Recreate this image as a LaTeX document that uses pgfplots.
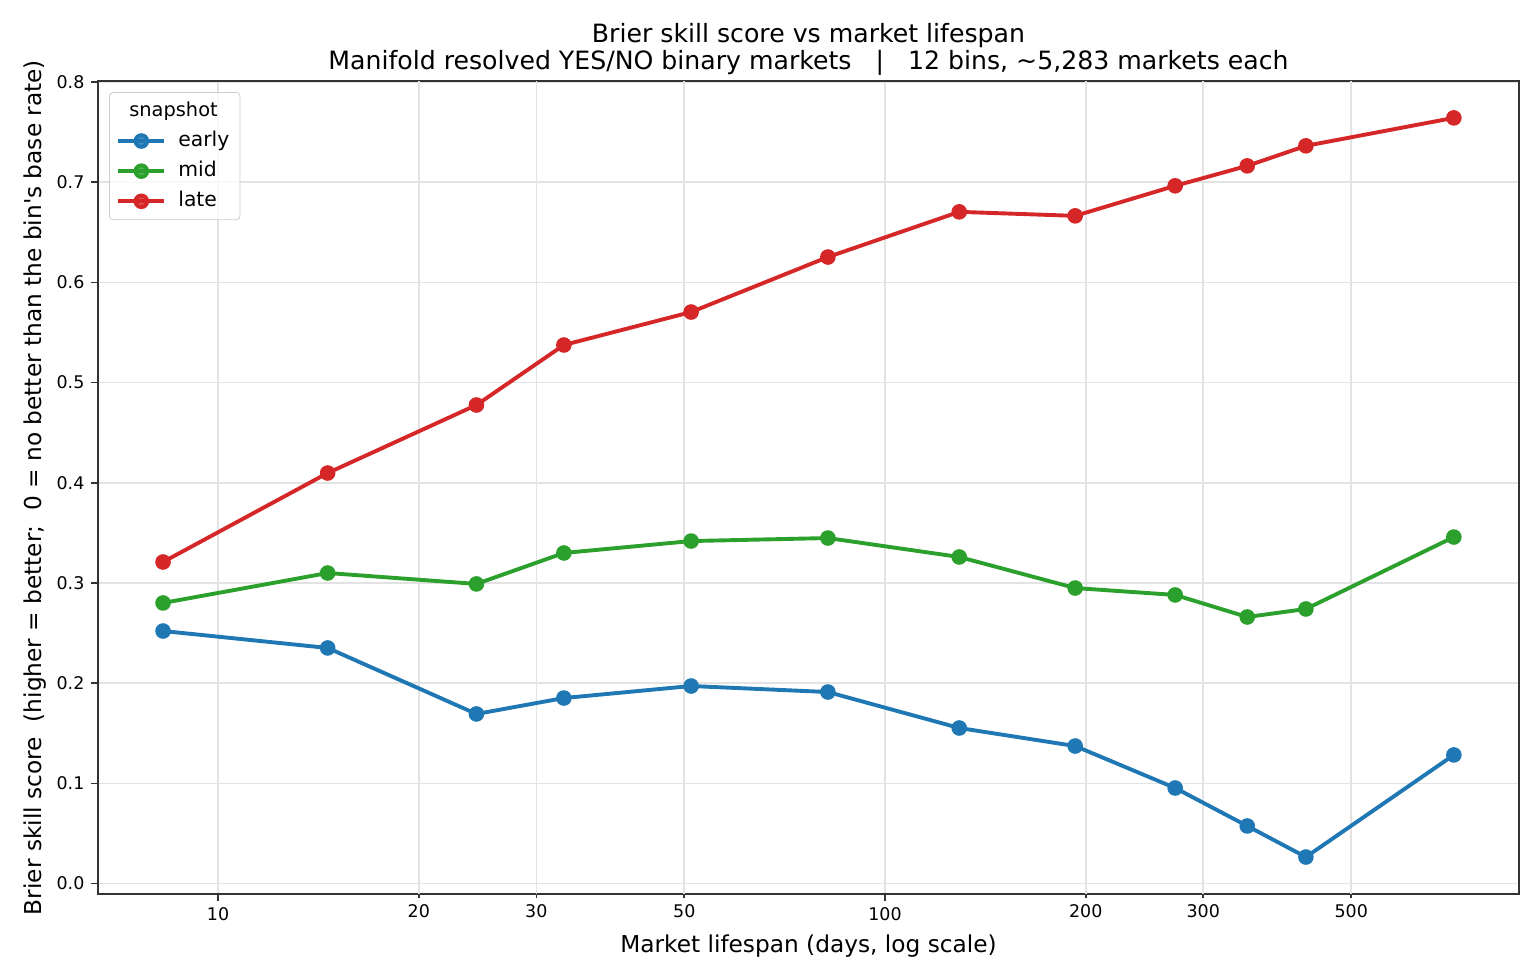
\documentclass[border=0pt]{standalone}
\usepackage{fontspec}
\setmainfont{DejaVu Sans}
\usepackage{pgfplots}
\pgfplotsset{compat=1.18}
\usetikzlibrary{calc}
\definecolor{tabblue}{HTML}{1F77B4}
\definecolor{tabgreen}{HTML}{2CA02C}
\definecolor{tabred}{HTML}{D62728}
\definecolor{spine}{HTML}{333333}
\begin{document}
\begin{tikzpicture}
\begin{axis}[
  name=ax, at={(0,0)}, anchor=south west,
  scale only axis, width=730.8bp, height=418.1bp,
  xmode=log, log basis x=10,
  xmin=6.607, xmax=892.4,
  ymin=-0.0105, ymax=0.801,
  xtick={10,100}, xticklabels={10,100},
  extra x ticks={20,30,50,200,300,500},
  extra x tick labels={20,30,50,200,300,500},
  extra x tick style={major tick length=2bp, grid=major},
  minor xtick={},
  ytick={0,0.1,0.2,0.3,0.4,0.5,0.6,0.7,0.8},
  yticklabel style={/pgf/number format/.cd, fixed, fixed zerofill, precision=1},
  /pgf/number format/assume math mode=true,
  tick align=outside, tick pos=left, major tick length=3.5bp,
  tick style={spine, line width=0.8bp},
  grid=major, major grid style={black!11, line width=0.8bp},
  axis line style={spine, line width=0.8bp},
  ticklabel style={font=\fontsize{9}{10.8}\selectfont, text=black},
  xlabel={Market lifespan (days, log scale)},
  xlabel style={at={(axis description cs:0.5,0)}, anchor=base, yshift=-30bp, font=\fontsize{12}{14.4}\selectfont},
  legend style={at={(axis description cs:0,1)}, anchor=north west, xshift=5.66bp, yshift=-5.66bp,
    draw=black!20, rounded corners=2bp, fill=white, fill opacity=0.8, text opacity=1,
    inner xsep=3.6bp, inner ysep=3.4bp, row sep=3.3bp, column sep=6.2bp,
    font=\fontsize{10.5}{12.6}\selectfont,
    nodes={inner sep=0pt, text height=8.9bp, text depth=3.3bp}},
  legend cell align=left,
  legend image code/.code={\draw[mark repeat=2,mark phase=2,#1] plot coordinates {(0bp,0bp)(11.83bp,0bp)(23.66bp,0bp)};},
  every axis plot/.append style={line width=2bp, mark=*, mark size=3bp, mark options={solid, line width=1bp}},
]
\addlegendimage{empty legend}
\addlegendentry{\hspace*{-25.2bp}\fontsize{10}{12}\selectfont snapshot\hspace*{7.9bp}}

\addplot[color=tabblue, mark options={fill=tabblue}] coordinates {
  (8.27,0.2520) (14.6,0.2351) (24.4,0.1692) (33.0,0.1851) (51.2,0.1971) (82.1,0.1911)
  (129.2,0.1552) (192.8,0.1372) (272.3,0.0953) (349.2,0.0574) (427.6,0.0264) (712.7,0.1283)};
\addlegendentry{early}

\addplot[color=tabgreen, mark options={fill=tabgreen}] coordinates {
  (8.27,0.2800) (14.6,0.3099) (24.4,0.2990) (33.0,0.3299) (51.2,0.3418) (82.1,0.3448)
  (129.2,0.3259) (192.8,0.2949) (272.3,0.2880) (349.2,0.2660) (427.6,0.2740) (712.7,0.3458)};
\addlegendentry{mid}

\addplot[color=tabred, mark options={fill=tabred}] coordinates {
  (8.27,0.3209) (14.6,0.4097) (24.4,0.4776) (33.0,0.5375) (51.2,0.5704) (82.1,0.6253)
  (129.2,0.6704) (192.8,0.6664) (272.3,0.6964) (349.2,0.7163) (427.6,0.7363) (712.7,0.7642)};
\addlegendentry{late}
\end{axis}
\node[rotate=90, anchor=base, font=\fontsize{12}{14.4}\selectfont] at ($(ax.west)+(-28.8bp,0)$)
  {Brier skill score~ (higher = better;~ 0 = no better than the bin\textquotesingle s base rate)};
\node[anchor=base, font=\fontsize{13}{15.6}\selectfont] at ($(ax.north)+(0,19.9bp)$)
  {Brier skill score vs market lifespan};
\node[anchor=base, font=\fontsize{13}{15.6}\selectfont] at ($(ax.north)+(0,6.0bp)$)
  {Manifold resolved YES/NO binary markets~~ |~~ 12 bins, \textasciitilde5,283 markets each};
\pgfresetboundingbox
\path[use as bounding box] ($(ax.south west)+(-50.4bp,-44.23bp)$) rectangle ($(ax.south west)+(741.6bp,459.77bp)$);
\end{tikzpicture}
\end{document}
